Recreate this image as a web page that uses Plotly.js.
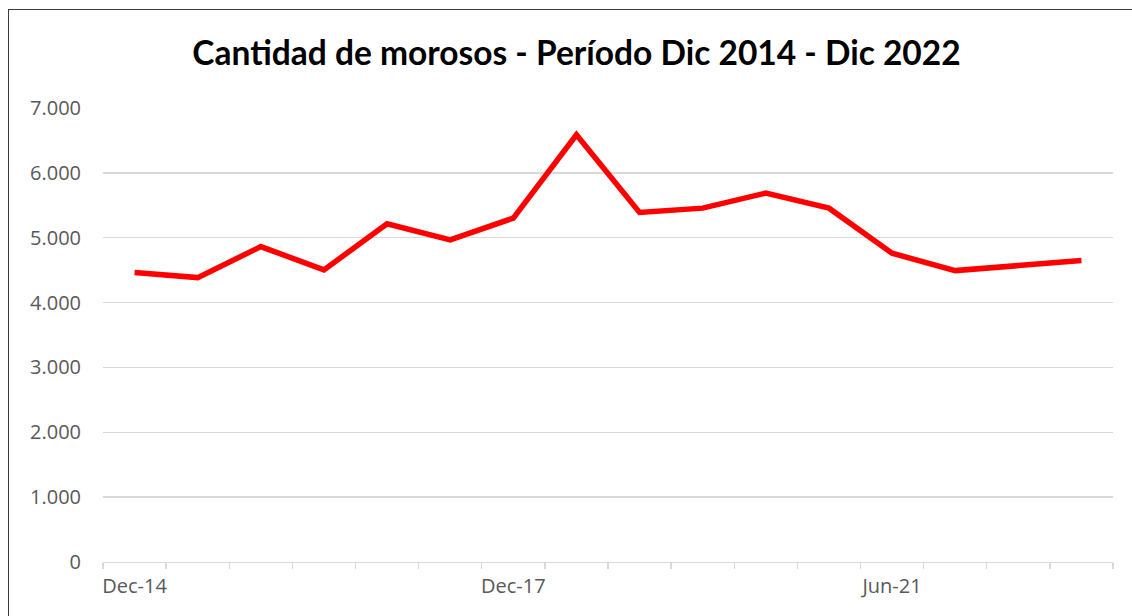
<!DOCTYPE html>
<html>
<head>
<meta charset="utf-8">
<script src="https://cdn.plot.ly/plotly-3.0.1.min.js"></script>
<style>
  html, body { margin: 0; padding: 0; overflow: hidden; background: #fff; }
  #chart { position: absolute; left: 0; top: 0; width: 1132px; height: 616px; }
  #frame { position: absolute; left: 8px; top: 9px; width: 1300px; height: 800px;
           border: 1.5px solid #3c3c3c; pointer-events: none; z-index: 10; }
</style>
</head>
<body>
<div id="chart"></div>
<div id="frame"></div>
<script>
const categories = ['Dec-14','Jun-15','Dec-15','Jun-16','Dec-16','Jun-17','Dec-17','Jun-18',
                    'Dec-18','Jun-19','Dec-19','Jun-20','Jun-21','Dec-21','Jun-22','Dec-22'];
const morosos = [4462, 4385, 4863, 4504, 5214, 4967, 5302, 6588,
                 5389, 5456, 5688, 5456, 4761, 4493, 4570, 4647];
const labeledCategories = ['Dec-14', 'Dec-17', 'Jun-21'];
const yTicks = [0, 1000, 2000, 3000, 4000, 5000, 6000, 7000];
const titleText = 'Cantidad de morosos - Período Dic 2014 - Dic 2022';

const xIdx = categories.map((c, i) => i);
const tickvals = labeledCategories.map(c => categories.indexOf(c));

const trace = {
  x: xIdx,
  y: morosos,
  type: 'scatter',
  mode: 'lines',
  line: { color: '#ff0000', width: 5.5 },
  hoverinfo: 'skip',
  showlegend: false
};

const layout = {
  width: 1132,
  height: 616,
  paper_bgcolor: '#ffffff',
  plot_bgcolor: '#ffffff',
  separators: ',.',
  margin: { l: 103, r: 19, t: 108, b: 54 },
  font: { family: '"Open Sans", sans-serif', color: '#595959', size: 20 },
  title: {
    text: '<b>' + titleText + '</b>',
    font: { family: 'Lato, "Open Sans", sans-serif', size: 33.5, color: '#000000' },
    xref: 'container', yref: 'container',
    x: 576.5 / 1132, xanchor: 'center',
    y: 1 - 53 / 616, yanchor: 'middle'
  },
  xaxis: {
    range: [-0.5, categories.length - 0.5],
    tickmode: 'array',
    tickvals: tickvals,
    ticktext: labeledCategories,
    ticks: '',
    showgrid: false,
    zeroline: false,
    showline: true,
    linecolor: '#d9d9d9',
    linewidth: 1.3,
    tickfont: { size: 20, color: '#595959' },
    ticklabelstandoff: 6,
    minor: {
      tick0: -0.5,
      dtick: 1,
      ticks: 'outside',
      ticklen: 6,
      tickcolor: '#d9d9d9',
      tickwidth: 1.3,
      showgrid: false
    },
    fixedrange: true
  },
  yaxis: {
    range: [0, 7000],
    tickmode: 'array',
    tickvals: yTicks,
    tickformat: ',d',
    showgrid: true,
    gridcolor: '#d9d9d9',
    gridwidth: 1.3,
    zeroline: false,
    showline: false,
    ticks: '',
    ticklabelstandoff: 21,
    tickfont: { size: 20, color: '#595959' },
    fixedrange: true
  }
};

Plotly.newPlot('chart', [trace], layout, { displayModeBar: false, staticPlot: true });
</script>
</body>
</html>
